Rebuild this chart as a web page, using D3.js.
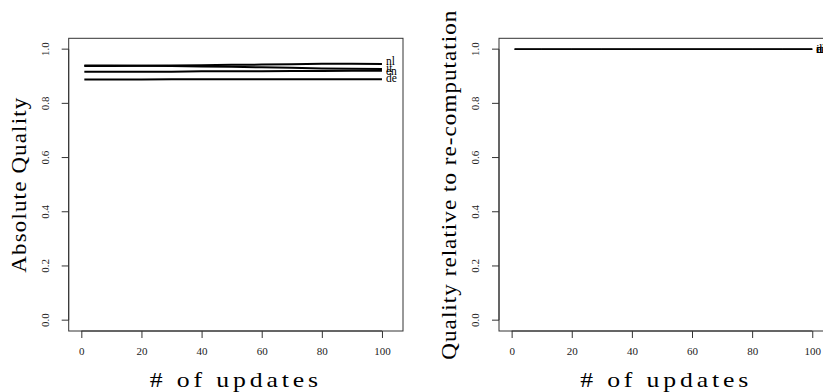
<!DOCTYPE html>
<html><head><meta charset="utf-8">
<script src="https://cdn.jsdelivr.net/npm/d3@7"></script>
<style>body{margin:0;background:#fff}svg{display:block}</style>
</head><body>
<svg id="c" width="823" height="392"></svg>
<script>
// ---- data ----
const updates = [1, 10, 20, 30, 40, 50, 60, 70, 80, 90, 100];
const languages = ["nl", "it", "en", "de"];
const absNl = [0.938, 0.938, 0.939, 0.940, 0.941, 0.942, 0.943, 0.944, 0.946, 0.946, 0.945];
const absIt = [0.940, 0.940, 0.939, 0.938, 0.936, 0.935, 0.933, 0.931, 0.929, 0.928, 0.927];
const absEn = [0.917, 0.917, 0.917, 0.917, 0.918, 0.918, 0.918, 0.919, 0.919, 0.920, 0.920];
const absDe = [0.888, 0.888, 0.888, 0.889, 0.889, 0.889, 0.889, 0.889, 0.889, 0.889, 0.889];
const relNl = [1, 1, 1, 1, 1, 1, 1, 1, 1, 1, 1];
const relIt = [1, 1, 1, 1, 1, 1, 1, 1, 1, 1, 1];
const relEn = [1, 1, 1, 1, 1, 1, 1, 1, 1, 1, 1];
const relDe = [1, 1, 1, 1, 1, 1, 1, 1, 1, 1, 1];
const xTicks = [0, 20, 40, 60, 80, 100];
const yTicks = [0.0, 0.2, 0.4, 0.6, 0.8, 1.0];
const xTitle = "# of updates";
const leftTitle = "Absolute Quality";
const rightTitle = "Quality relative to re-computation";

const svg = d3.select("#c");
const FONT = "'Liberation Serif', 'DejaVu Serif', serif";
const y = d3.scaleLinear().domain([-0.04, 1.04]).range([331, 38.3]);

function fitTitle(sel, len) {
  // widen by a mild mix of letter spacing and glyph stretching
  const natural = sel.node().getComputedTextLength();
  const extra = len - natural;
  const chars = sel.text().length;
  if (extra > 0 && chars > 1) sel.attr("letter-spacing", (extra * 0.5) / (chars - 1));
  sel.attr("textLength", len).attr("lengthAdjust", "spacingAndGlyphs");
}

function panel(x0, series, title, titleLen, lw, labelDy) {
  const x = d3.scaleLinear().domain([-4.2, 107]).range([x0, x0 + 334.3]);
  const g = svg.append("g");
  // box
  g.append("rect").attr("x", x(-4.2)).attr("y", y(1.04))
    .attr("width", x(107) - x(-4.2)).attr("height", y(-0.04) - y(1.04))
    .attr("fill", "none").attr("stroke", "#333").attr("stroke-width", 1);
  // x axis
  const xa = g.append("g").attr("transform", `translate(0,${y(-0.04)})`)
    .call(d3.axisBottom(x).tickValues(xTicks).tickSize(7).tickPadding(9).tickFormat(d3.format("d")));
  xa.select(".domain").attr("d", `M${x(0)},0H${x(100)}`).attr("stroke", "#333");
  xa.selectAll("line").attr("stroke", "#333");
  xa.selectAll("text").attr("font-family", FONT).attr("font-size", 11).attr("fill", "#222");
  // y axis
  const ya = g.append("g").attr("transform", `translate(${x(-4.2)},0)`)
    .call(d3.axisLeft(y).tickValues(yTicks).tickSize(7).tickPadding(0).tickFormat(d3.format(".1f")));
  ya.select(".domain").attr("d", `M0,${y(0)}V${y(1)}`).attr("stroke", "#333");
  ya.selectAll(".tick").attr("transform", null);
  ya.selectAll(".tick line").attr("stroke", "#333")
    .each(function(d){ d3.select(this).attr("y1", y(d)).attr("y2", y(d)); });
  ya.selectAll("text").attr("font-family", FONT).attr("font-size", 11).attr("fill", "#222")
    .attr("text-anchor", "middle").attr("x", 0).attr("y", 0).attr("dy", "0.35em")
    .each(function(d){ d3.select(this).attr("transform", `translate(-24,${y(d)}) rotate(-90)`); });
  // lines
  const line = d3.line().x((d, i) => x(updates[i])).y(d => y(d));
  series.forEach((s, i) => {
    g.append("path").attr("d", line(s)).attr("fill", "none").attr("stroke", "#000").attr("stroke-width", lw);
    g.append("text").attr("x", x(100) + 4).attr("y", y(s[s.length - 1]) + labelDy[i])
      .attr("dy", "0.32em").attr("font-family", FONT).attr("font-size", 11.5).attr("fill", "#000")
      .text(languages[i]);
  });
  // titles
  const xt = g.append("text").attr("x", (x(-4.2) + x(107)) / 2).attr("y", 387)
    .attr("text-anchor", "middle").attr("font-family", FONT).attr("font-size", 21).text(xTitle);
  fitTitle(xt, 172);
  const yt = g.append("text").attr("transform", `translate(${x0 - 43},${(y(1.04) + y(-0.04)) / 2}) rotate(-90)`)
    .attr("text-anchor", "middle").attr("font-family", FONT).attr("font-size", 21).text(title);
  fitTitle(yt, titleLen);
}

panel(68.7, [absNl, absIt, absEn, absDe], leftTitle, 176, 2, [-3, -1, 0, -1]);
panel(499, [relNl, relIt, relEn, relDe], rightTitle, 350, 1, [0, 0, 0, 0]);
</script>
</body></html>
